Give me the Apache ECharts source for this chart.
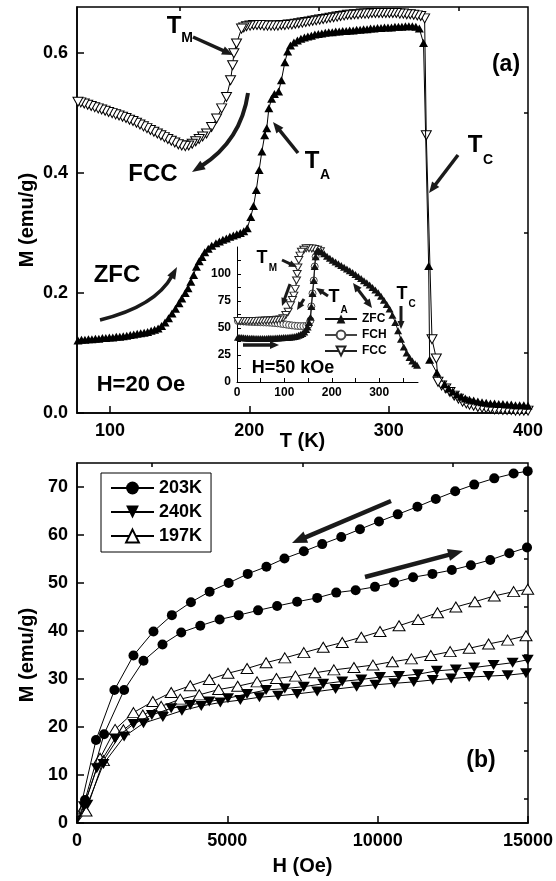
<!DOCTYPE html>
<html>
<head>
<meta charset="utf-8">
<script src="https://cdn.jsdelivr.net/npm/echarts@6/dist/echarts.min.js"></script>
<style>
  html, body { margin: 0; padding: 0; background: #fff; }
  #container { width: 556px; height: 881px; }
</style>
</head>
<body>
<div id="container"></div>
<script>
// ---- panel (a): M(T) at H = 20 Oe ----
var zfcT = [77,79.5,82,84.5,87,89.5,92,94.5,97,99.5,102,104.5,107,109.5,112,114.5,117,119.5,122,124.5,127,129.5,132,134.5,137,139.5,142,144.5,147,149.5,
  151.5,154,156,158,160,162,164,166,168,170.5,173,176,178.5,181,183.5,186,188.5,191,193.5,196,198.5,
  201,203,205,207,209,211,212.5,214,216,218,221,223,225.5,227.5,229.5,
  232,234.5,237,239.5,242,244.5,247,249.5,252,254.5,257,259.5,262,264.5,267,269.5,272,274.5,277,279.5,282,284.5,287,289.5,292,294.5,297,299.5,302,304.5,307,309.5,312,314.5,317,319.5,
  322,325,328.7,329.4,334.6,340.1,
  343,346,349,352,355,358,361,364,367,370,373,376,379,382,385,388,391,394,397,400];
var zfcM = [0.121,0.122,0.122,0.123,0.123,0.124,0.124,0.125,0.125,0.126,0.126,0.127,0.127,0.128,0.129,0.130,0.131,0.132,0.133,0.134,0.135,0.137,0.139,0.141,0.145,0.151,0.158,0.166,0.174,0.183,
  0.191,0.200,0.208,0.219,0.230,0.244,0.253,0.260,0.268,0.274,0.279,0.283,0.286,0.289,0.291,0.294,0.296,0.298,0.300,0.303,0.308,
  0.327,0.345,0.372,0.405,0.436,0.463,0.475,0.508,0.524,0.532,0.536,0.555,0.585,0.603,0.613,
  0.618,0.621,0.624,0.626,0.628,0.629,0.631,0.632,0.633,0.634,0.635,0.635,0.636,0.636,0.637,0.637,0.638,0.638,0.639,0.639,0.640,0.640,0.641,0.641,0.642,0.642,0.643,0.643,0.643,0.644,0.644,0.644,0.645,0.645,0.645,0.644,
  0.641,0.617,0.245,0.089,0.067,0.048,
  0.041,0.036,0.031,0.027,0.024,0.022,0.021,0.019,0.018,0.017,0.016,0.016,0.015,0.015,0.014,0.014,0.013,0.013,0.013,0.012];

var fccT = [400,397,394,391,388,385,382,379,376,373,370,367,364,361,358,355.7,353,350,347,344,341,338,335.4,334.2,331.1,327,325.8,
  323,320.5,318,315.5,313,310.5,308,305.5,303,300.5,298,295.5,293,290.5,288,285.5,283,280.5,278,275.5,273,270.5,268,265.5,263,260.5,258,255.5,253,250.5,248,245.5,243,240.5,238,235.5,233,230.5,228,225.5,223,220.5,218,215.5,213,210.5,208,205.5,203,200.5,198,196,
  194.4,190.8,188.9,188,186.5,183.6,180.1,176.5,172.9,169.3,166.5,164,161.5,159,156.5,154,151.5,149,146.5,144,141.5,139,136.5,134,131.5,129,126.5,124,121.5,119,116.5,114,111.5,109,106.5,104,101.5,99,96.5,94,91.5,89,86.5,84,81.5,79,77];
var fccM = [0.004,0.004,0.004,0.004,0.005,0.005,0.005,0.006,0.006,0.007,0.008,0.009,0.010,0.012,0.014,0.016,0.019,0.024,0.029,0.035,0.041,0.046,0.052,0.091,0.123,0.463,0.658,
  0.662,0.663,0.664,0.665,0.665,0.666,0.666,0.667,0.667,0.667,0.667,0.667,0.667,0.667,0.667,0.666,0.666,0.666,0.665,0.665,0.664,0.664,0.663,0.662,0.661,0.660,0.659,0.658,0.657,0.656,0.655,0.654,0.653,0.652,0.651,0.650,0.649,0.648,0.648,0.647,0.647,0.646,0.646,0.646,0.646,0.646,0.647,0.647,0.647,0.646,0.645,0.643,
  0.641,0.616,0.600,0.580,0.555,0.527,0.508,0.491,0.477,0.466,0.461,0.457,0.453,0.449,0.446,0.445,0.446,0.448,0.451,0.454,0.457,0.460,0.463,0.466,0.469,0.472,0.475,0.478,0.481,0.484,0.487,0.489,0.492,0.494,0.496,0.498,0.500,0.502,0.504,0.506,0.508,0.510,0.512,0.514,0.516,0.518,0.519];

// ---- inset: H = 50 kOe ----
var insZfcT = [2,6,10,14,18,22,26,30,34,38,42,46,50,54,58,62,66,70,74,78,82,86,90,94,98,102,106,110,114,118,122,126,130,134,138,142,146,
  149,152,155,157,159.4,162,164,166,169,172,
  178,184,190,196,202,208,214,220,226,232,238,244,250,256,262,268,274,280,286,292,298,304,310,316,322,328,334,340,346,352,358,364,370,376,380];
var insZfcM = [41.5,41.3,41.1,40.9,40.8,40.7,40.6,40.5,40.4,40.3,40.3,40.3,40.3,40.3,40.3,40.3,40.4,40.4,40.5,40.6,40.7,40.8,40.9,41.0,41.1,41.2,41.3,41.5,41.7,41.9,42.2,42.6,43.2,44.0,45.0,46.3,48.5,
  51,55,60,70,82,94,107,116,121,121.5,
  120.5,118.8,116.5,114.5,112.8,111.2,109.5,107.8,106.2,104.6,103,101.3,99.6,97.8,95.8,93.8,91.8,89.9,87.6,85.2,82.6,79.4,75.8,71.8,67.6,61.8,55.2,47.4,39.5,32.4,26.8,22.6,19.5,17,15.5];
var insFchT = [2,8,14,20,26,32,38,44,50,56,62,68,74,80,86,92,98,104,110,116,122,128,134,140,146,151,155,157,159.4,162,164,166,169];
var insFchM = [56.5,56.3,56.1,55.9,55.7,55.6,55.5,55.4,55.3,55.2,55.1,55,54.8,54.6,54.3,54,53.6,53.2,52.8,52.4,52.1,51.9,51.8,51.8,52,53,57,70,82,94,107,116,122];
var insFccT = [176,170,164,158,152,146,141,136,133,130.4,128.5,127,125.6,123,120,117,113,108,103,97,91,85,79,73,67,61,55,49,43,37,31,25,19,13,7,2];
var insFccM = [121,122.5,123.2,123.6,123.8,123.8,122.5,120.6,117,113,106,100,94,86,80,76,71,65,62,59,58,57.6,57.4,57.2,57,56.9,56.8,56.7,56.6,56.6,56.5,56.5,56.5,56.5,56.5,56.5];

// ---- panel (b): M(H) loops ----
var h203a = [0,633,1244,1878,2544,3156,3789,4411,5044,5678,6300,6900,7544,8156,8789,9411,10044,10667,11322,11933,12578,13211,13878,14522,14990];
var m203a = [0,17.3,27.7,34.9,39.9,43.3,46.0,48.2,50.0,51.9,53.4,55.1,56.6,58.1,59.6,61.2,62.8,64.3,65.9,67.5,69.1,70.5,71.8,72.8,73.3];
var h203b = [0,267,900,1567,2211,2844,3467,4100,4744,5378,6022,6656,7322,7989,8622,9267,9911,10544,11178,11822,12467,13100,13744,14378,14967];
var m203b = [0,4.8,18.5,27.7,33.8,37.2,39.7,41.1,42.4,43.3,44.3,45.2,46.1,46.9,48.0,48.5,49.2,50.1,51.2,51.9,52.7,53.7,54.8,56.2,57.4];
var h240a = [0,230,656,1267,1878,2489,3133,3767,4400,5022,5656,6289,6911,7544,8189,8822,9456,10078,10711,11344,11967,12600,13211,13856,14489,14990];
var m240a = [0,3.5,11.4,17.6,20.6,22.5,23.9,24.6,25.3,26.0,26.9,27.7,28.0,28.4,29.0,29.5,29.9,30.4,30.6,31.0,31.7,32.0,32.4,32.9,33.4,34.0];
var h240b = [0,344,878,1567,2211,2856,3489,4133,4767,5433,6067,6689,7322,7989,8600,9300,9922,10556,11200,11833,12444,13044,13689,14322,14933];
var m240b = [0,3.8,12.3,18.0,20.8,22.1,23.4,24.4,25.1,25.6,26.2,26.5,26.9,27.4,27.9,28.4,28.8,29.1,29.4,29.8,30.1,30.4,30.6,30.8,31.2];
var h197a = [0,211,767,1267,1878,2522,3133,3767,4400,5022,5656,6289,6911,7544,8189,8822,9456,10078,10711,11344,11989,12600,13233,13878,14522,14990];
var m197a = [0,3.1,13.5,19.5,23.0,25.3,27.2,28.6,29.9,31.2,32.2,33.4,34.4,35.5,36.6,37.6,38.7,39.9,41.1,42.4,43.8,45.0,46.1,47.3,48.2,48.7];
var h197b = [0,300,878,1544,2189,2800,3433,4067,4711,5344,5989,6633,7267,7911,8544,9211,9844,10489,11122,11767,12411,13044,13689,14322,14933];
var m197b = [0,2.5,13.0,19.4,22.5,24.3,25.8,26.7,27.8,28.5,29.4,30.1,30.6,31.3,31.9,32.4,32.9,33.6,34.2,34.9,35.7,36.4,37.3,38.1,39.0];

var FONT = 'Liberation Sans, Arial, Helvetica, sans-serif';
var plain = function (v) { return String(v); };

function pts(xs, ys) {
    var out = [];
    for (var i = 0; i < Math.min(xs.length, ys.length); i++) {
        if (xs[i] === 0 && ys[i] === 0) out.push({value: [0, 0], symbol: 'none'});
        else out.push([xs[i], ys[i]]);
    }
    return out;
}

function majorAxis(o) {
    return {
        type: 'value', gridIndex: o.grid, min: o.min, max: o.max,
        axisLine: {show: true, onZero: false, lineStyle: {color: '#000', width: o.lw || 1.5}},
        axisTick: {show: true, inside: true, length: o.len, customValues: o.ticks, lineStyle: {color: '#000', width: o.lw || 1.5}},
        axisLabel: {show: true, customValues: o.labels, margin: o.margin, color: '#000', fontFamily: FONT,
            fontWeight: 'bold', fontSize: o.fs, formatter: o.fmt || plain},
        splitLine: {show: false},
        name: o.name || '', nameLocation: 'middle', nameGap: o.nameGap || 0, nameMoveOverlap: false,
        nameTextStyle: {color: '#000', fontFamily: FONT, fontWeight: 'bold', fontSize: 20}
    };
}
function minorAxis(o) {
    return {
        type: 'value', gridIndex: o.grid, min: o.min, max: o.max,
        axisLine: {show: false, onZero: false},
        axisTick: {show: true, inside: true, length: o.len, customValues: o.ticks, lineStyle: {color: '#000', width: o.lw || 1.5}},
        axisLabel: {show: false}, splitLine: {show: false}
    };
}

function line(name, xi, data, symbol, rot, size, fill, stroke, z) {
    return {
        name: name, type: 'line', xAxisIndex: xi, yAxisIndex: xi, data: data,
        symbol: symbol, symbolRotate: rot, symbolSize: size, showAllSymbol: true,
        itemStyle: {color: fill, borderColor: stroke, borderWidth: fill === '#fff' ? 1 : 0},
        lineStyle: {color: stroke, width: 1}, emphasis: {disabled: true}, z: z
    };
}

// annotation helpers
function head(x, y, ux, uy, hl, hw) {
    var bx = x - ux * hl, by = y - uy * hl;
    return {type: 'polygon', z: 100, shape: {points: [[x, y], [bx - uy * hw / 2, by + ux * hw / 2], [bx + uy * hw / 2, by - ux * hw / 2]]},
        style: {fill: '#1a1a1a'}};
}
function arrow(x1, y1, x2, y2, w, hl, hw, cx, cy, both) {
    var sx = cx === undefined ? x1 : cx, sy = cy === undefined ? y1 : cy;
    var dx = x2 - sx, dy = y2 - sy, len = Math.sqrt(dx * dx + dy * dy), ux = dx / len, uy = dy / len;
    var ex = x2 - ux * hl * 0.8, ey = y2 - uy * hl * 0.8;
    var els = [];
    if (cx === undefined) {
        var bx1 = x1, by1 = y1;
        if (both) { bx1 = x1 + ux * hl * 0.8; by1 = y1 + uy * hl * 0.8; els.push(head(x1, y1, -ux, -uy, hl, hw)); }
        els.push({type: 'line', z: 100, shape: {x1: bx1, y1: by1, x2: ex, y2: ey}, style: {stroke: '#1a1a1a', lineWidth: w}});
    } else {
        els.push({type: 'bezierCurve', z: 100, shape: {x1: x1, y1: y1, x2: ex, y2: ey, cpx1: cx, cpy1: cy},
            style: {stroke: '#1a1a1a', lineWidth: w, fill: 'none'}});
    }
    els.push(head(x2, y2, ux, uy, hl, hw));
    return els;
}
function txt(s, x, y, fs, rot) {
    return {type: 'text', x: x, y: y, z: 100, rotation: rot || 0,
        style: {text: s, fill: '#000', fontFamily: FONT, fontWeight: 'bold', fontSize: fs,
            align: 'center', verticalAlign: 'middle', textAlign: 'center', textVerticalAlign: 'middle'}};
}

var notes = [].concat(
    txt('M (emu/g)', 27, 220, 20, Math.PI / 2),
    txt('M (emu/g)', 27, 655, 20, Math.PI / 2),
    txt('T', 174, 26, 24), txt('M', 187, 38, 14),
    txt('FCC', 153, 174, 24), txt('ZFC', 117, 275, 24), txt('H=20 Oe', 141, 385, 22),
    txt('T', 312, 161, 24), txt('A', 325, 175, 14),
    txt('T', 475, 145, 24), txt('C', 488, 160, 14),
    txt('(a)', 506, 65, 23), txt('(b)', 481, 761, 23),
    txt('T', 262, 258, 18), txt('M', 273, 268, 10),
    txt('T', 334, 297, 18), txt('A', 344, 310, 10),
    txt('T', 402, 294, 18), txt('C', 412, 304, 10),
    txt('H=50 kOe', 293, 368, 18),
    arrow(193, 37, 233, 55, 3.5, 11, 9),
    arrow(248, 93, 192, 172, 4, 13, 10, 241, 141),
    arrow(298, 153, 273, 122, 3.5, 11, 9),
    arrow(458, 155, 429, 193, 3.5, 11, 9),
    arrow(100, 320, 177, 267, 3.5, 12, 9, 155.5, 306.5),
    arrow(243, 345, 279, 345, 3.5, 9, 8),
    arrow(282, 260, 297, 267, 3, 8, 7),
    arrow(290, 284, 282, 306, 3, 8, 7),
    arrow(304, 299, 297, 310, 3, 8, 7),
    arrow(328, 296, 316, 288, 3, 8, 7),
    arrow(353, 283, 372, 308, 3, 9, 8, undefined, undefined, true),
    arrow(401, 306, 401, 329, 3, 8, 7),
    arrow(391, 501, 292, 543, 4.5, 15, 12),
    arrow(365, 577, 463, 551, 4.5, 15, 12)
);

var dom = document.getElementById('container');
var myChart = echarts.init(dom, null, {renderer: 'canvas'});
var option = {
    animation: false,
    backgroundColor: '#fff',
    grid: [
        {left: 77, top: 7, width: 451, height: 406, show: true, borderColor: '#000', borderWidth: 1.5, backgroundColor: 'transparent', outerBoundsMode: 'none'},
        {left: 237, top: 247, width: 181, height: 135, show: false, outerBoundsMode: 'none'},
        {left: 77, top: 463, width: 451, height: 360, show: true, borderColor: '#000', borderWidth: 1.5, backgroundColor: 'transparent', outerBoundsMode: 'none'}
    ],
    xAxis: [
        majorAxis({grid: 0, min: 76.3, max: 400, len: 7, ticks: [100, 200, 300, 400], labels: [100, 200, 300, 400], margin: 9, fs: 18, name: 'T (K)', nameGap: 18}),
        minorAxis({grid: 0, min: 76.3, max: 400, len: 4, ticks: [150, 250, 350]}),
        majorAxis({grid: 1, min: 0, max: 382, len: 4, lw: 1, ticks: [0, 50, 100, 150, 200, 250, 300, 350], labels: [0, 100, 200, 300], margin: 5, fs: 12}),
        majorAxis({grid: 2, min: 0, max: 15000, len: 7, ticks: [0, 5000, 10000, 15000], labels: [0, 5000, 10000, 15000], margin: 9, fs: 18, name: 'H (Oe)', nameGap: 33}),
        minorAxis({grid: 2, min: 0, max: 15000, len: 4, ticks: [2500, 7500, 12500]})
    ],
    yAxis: [
        majorAxis({grid: 0, min: 0, max: 0.677, len: 7, ticks: [0, 0.2, 0.4, 0.6], labels: [0, 0.2, 0.4, 0.6], margin: 9, fs: 18,
            fmt: function (v) { return Number(v).toFixed(1); }}),
        minorAxis({grid: 0, min: 0, max: 0.677, len: 4, ticks: [0.1, 0.3, 0.5]}),
        majorAxis({grid: 1, min: 0, max: 125, len: 4, lw: 1, ticks: [0, 12.5, 25, 37.5, 50, 62.5, 75, 87.5, 100, 112.5], labels: [0, 25, 50, 75, 100], margin: 6, fs: 12}),
        majorAxis({grid: 2, min: 0, max: 75, len: 7, ticks: [0, 10, 20, 30, 40, 50, 60, 70], labels: [0, 10, 20, 30, 40, 50, 60, 70], margin: 9, fs: 18}),
        minorAxis({grid: 2, min: 0, max: 75, len: 4, ticks: [5, 15, 25, 35, 45, 55, 65]})
    ],
    legend: [
        {data: ['ZFC', 'FCH', 'FCC'], orient: 'vertical', left: 324, top: 313, itemWidth: 32, itemHeight: 11, itemGap: 4,
            padding: 0, selectedMode: false, textStyle: {color: '#000', fontFamily: FONT, fontWeight: 'bold', fontSize: 12}},
        {data: ['203K', '240K', '197K'], orient: 'vertical', left: 101, top: 473, itemWidth: 43, itemHeight: 16, itemGap: 6,
            padding: [6, 9, 7, 9], borderColor: '#000', borderWidth: 1, borderRadius: 0, backgroundColor: '#fff', selectedMode: false,
            textStyle: {color: '#000', fontFamily: FONT, fontWeight: 'bold', fontSize: 18}}
    ],
    graphic: {elements: notes},
    series: [
        line('FCC (20 Oe)', 0, pts(fccT, fccM), 'triangle', 180, [10, 9], '#fff', '#000', 3),
        line('ZFC (20 Oe)', 0, pts(zfcT, zfcM), 'triangle', 0, [9, 8], '#000', '#000', 4),
        line('FCH', 2, pts(insFchT, insFchM), 'circle', 0, 7, '#fff', '#444', 5),
        line('FCC', 2, pts(insFccT, insFccM), 'triangle', 180, [8, 7], '#fff', '#222', 6),
        line('ZFC', 2, pts(insZfcT, insZfcM), 'triangle', 0, [8, 7], '#111', '#111', 7),
        line('197K', 3, pts(h197a, m197a), 'triangle', 0, [12, 10], '#fff', '#000', 3),
        line('197K', 3, pts(h197b, m197b), 'triangle', 0, [12, 10], '#fff', '#000', 3),
        line('240K', 3, pts(h240a, m240a), 'triangle', 180, [12, 10], '#000', '#000', 4),
        line('240K', 3, pts(h240b, m240b), 'triangle', 180, [12, 10], '#000', '#000', 4),
        line('203K', 3, pts(h203a, m203a), 'circle', 0, 10, '#000', '#000', 5),
        line('203K', 3, pts(h203b, m203b), 'circle', 0, 10, '#000', '#000', 5)
    ]
};
if (option && typeof option === "object") {
    myChart.setOption(option, true);
}
</script>
</body>
</html>
